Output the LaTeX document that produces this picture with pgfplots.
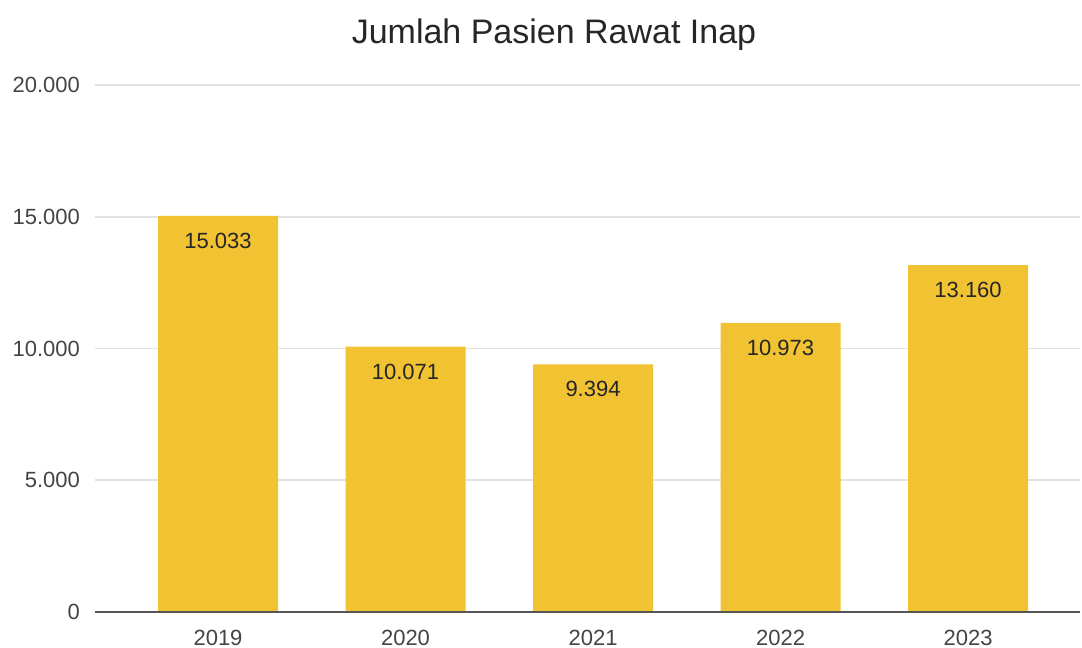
\documentclass[border=0pt]{standalone}
\usepackage{fontspec}
\setmainfont{Liberation Sans}
\usepackage{pgfplots}
\pgfplotsset{compat=1.18}
\definecolor{baryellow}{HTML}{F1C232}
\definecolor{gridgray}{HTML}{E2E2E2}
\definecolor{axisgray}{HTML}{555555}
\definecolor{ticktext}{HTML}{444444}
\begin{document}
\begin{tikzpicture}
\path[use as bounding box] (-47.5pt,-18pt) rectangle (493.5pt,306pt);
\begin{axis}[
    at={(0,0)}, anchor=south west,
    scale only axis,
    width=492.5pt, height=263.5pt,
    xmin=-0.656, xmax=4.597,
    ymin=0, ymax=20000,
    ytick={0,5000,10000,15000,20000},
    xtick={0,1,2,3,4},
    xticklabels={2019,2020,2021,2022,2023},
    axis line style={draw=none},
    axis x line*=bottom,
    axis y line*=left,
    major tick length=0pt,
    ymajorgrids,
    grid style={gridgray, line width=0.8pt},
    tick label style={font=\fontsize{11}{13}\selectfont, text=ticktext},
    yticklabel style={xshift=-4pt},
    xticklabel style={yshift=-5.5pt},
    /pgf/number format/.cd, 1000 sep={.}, assume math mode=true,
    /pgfplots/.cd,
    scaled y ticks=false,
    clip=false,
]
\addplot[ybar, bar width=60pt, fill=baryellow, draw=none,
    nodes near coords,
    every node near coord/.append style={anchor=north, yshift=-5pt,
        font=\fontsize{11}{13}\selectfont, text=black!85,
        /pgf/number format/1000 sep={.}, /pgf/number format/assume math mode=true},
] coordinates {
    (0,15033)
    (1,10071)
    (2,9394)
    (3,10973)
    (4,13160)
};
\draw[axisgray, line width=0.8pt] (axis cs:-0.656,0) -- (axis cs:4.597,0);
\node[font=\fontsize{17}{20}\selectfont, text=black!85] at ([yshift=25pt]axis description cs:0.466,1) {Jumlah Pasien Rawat Inap};
\end{axis}
\end{tikzpicture}
\end{document}
